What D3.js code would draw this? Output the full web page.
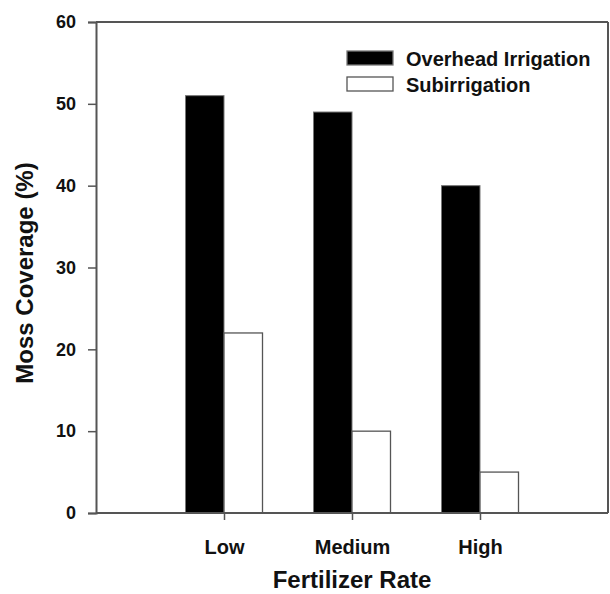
<!DOCTYPE html>
<html>
<head>
<meta charset="utf-8">
<script src="https://cdn.jsdelivr.net/npm/d3@7"></script>
<style>
  html, body { margin: 0; padding: 0; background: #fff; }
  text { font-family: Arial, "Liberation Sans", Helvetica, sans-serif; font-weight: bold; fill: #111; }
</style>
</head>
<body>
<svg id="chart" width="610" height="594"></svg>
<script>
const categories = ["Low", "Medium", "High"];
const seriesNames = ["Overhead Irrigation", "Subirrigation"];
const overhead = [51, 49, 40];
const subirrigation = [22, 10, 5];
const yTicks = [0, 10, 20, 30, 40, 50, 60];
const xTitle = "Fertilizer Rate";
const yTitle = "Moss Coverage (%)";

(function () {
const svg = d3.select("#chart");
const pLeft = 96, pRight = 608, pTop = 22, pBottom = 513;
const frameColor = "#555";

const x = d3.scalePoint().domain(categories).range([pLeft, pRight]).padding(1);
const y = d3.scaleLinear().domain([0, 60]).range([pBottom, pTop]);
const barW = 38.5;

// bars
const g = svg.append("g");
g.selectAll("rect.oh").data(categories).enter().append("rect")
  .attr("class", "oh")
  .attr("x", d => x(d) - barW)
  .attr("y", (d, i) => y(overhead[i]))
  .attr("width", barW)
  .attr("height", (d, i) => y(0) - y(overhead[i]))
  .attr("fill", "#000")
  .attr("stroke", "#777").attr("stroke-width", 1);
g.selectAll("rect.sub").data(categories).enter().append("rect")
  .attr("class", "sub")
  .attr("x", d => x(d))
  .attr("y", (d, i) => y(subirrigation[i]))
  .attr("width", barW)
  .attr("height", (d, i) => y(0) - y(subirrigation[i]))
  .attr("fill", "#fff")
  .attr("stroke", "#555").attr("stroke-width", 1.3);

// frame top and right
svg.append("line").attr("x1", pLeft).attr("x2", pRight).attr("y1", pTop).attr("y2", pTop)
  .attr("stroke", frameColor).attr("stroke-width", 2);
svg.append("line").attr("x1", pRight).attr("x2", pRight).attr("y1", pTop).attr("y2", pBottom)
  .attr("stroke", frameColor).attr("stroke-width", 2);

// y axis
const yAxis = svg.append("g").attr("transform", `translate(${pLeft},0)`)
  .call(d3.axisLeft(y).tickValues(yTicks).tickSize(8).tickPadding(12).tickFormat(d3.format("d")));
yAxis.select(".domain").attr("stroke", frameColor).attr("stroke-width", 2);
yAxis.selectAll(".tick line").attr("stroke", frameColor).attr("stroke-width", 1.5);
yAxis.selectAll(".tick text").style("font-size", "18px").attr("fill", "#111")
  .style("font-family", "Arial, 'Liberation Sans', sans-serif").style("font-weight", "bold");

// x axis
const xAxis = svg.append("g").attr("transform", `translate(0,${pBottom})`)
  .call(d3.axisBottom(x).tickSize(7).tickPadding(20).tickSizeOuter(0));
xAxis.select(".domain").attr("stroke", frameColor).attr("stroke-width", 2)
  .attr("d", `M${pLeft},0H${pRight}`);
xAxis.selectAll(".tick line").attr("stroke", frameColor).attr("stroke-width", 1.5);
xAxis.selectAll(".tick text").style("font-size", "20px").attr("fill", "#111")
  .style("font-family", "Arial, 'Liberation Sans', sans-serif").style("font-weight", "bold");

// axis titles
svg.append("text").attr("x", (pLeft + pRight) / 2).attr("y", 588)
  .attr("text-anchor", "middle").style("font-size", "24px").text(xTitle);
svg.append("text").attr("transform", "translate(33,273) rotate(-90)")
  .attr("text-anchor", "middle").style("font-size", "24px").text(yTitle);

// legend
const legend = svg.append("g");
const legY = [51, 77];
const legFill = ["#000", "#fff"];
seriesNames.forEach((name, i) => {
  legend.append("rect").attr("x", 347).attr("y", legY[i]).attr("width", 46).attr("height", 14)
    .attr("fill", legFill[i]).attr("stroke", i === 0 ? "#777" : "#555").attr("stroke-width", 1.3);
  legend.append("text").attr("x", 406).attr("y", legY[i] + 14.5)
    .style("font-size", "20px").text(name);
});
})();
</script>
</body>
</html>
